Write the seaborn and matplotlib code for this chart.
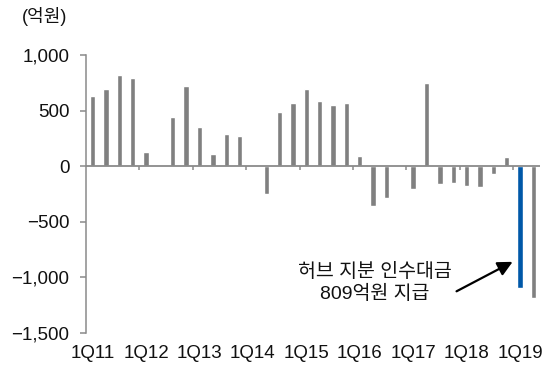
import matplotlib
matplotlib.use("Agg")
import matplotlib.pyplot as plt
from matplotlib.ticker import FuncFormatter
import seaborn as sns
import pandas as pd

# Quarterly values (억원), 1Q11 through 2Q19
years = ["11", "12", "13", "14", "15", "16", "17", "18", "19"]
quarters = [f"{q}Q{y}" for y in years for q in range(1, 5)][:34]
values = [630, 695, 820, 790,
          129, 0, 444, 719,
          354, 108, 291, 276,
          0, -248, 489, 566,
          698, 588, 554, 566,
          93, -359, -290, 0,
          -207, 749, -164, -149,
          -180, -185, -66, 87,
          -1093, -1183]
highlight_quarter = "1Q19"
tick_labels = ["1Q11", "1Q12", "1Q13", "1Q14", "1Q15", "1Q16", "1Q17", "1Q18", "1Q19"]
note_text = "허브 지분 인수대금\n809억원 지급"
unit_text = "(억원)"

GRAY = "#808080"
BLUE = "#0058A8"
AXIS = "#8a8a8a"

df = pd.DataFrame({"quarter": quarters, "value": values})
df["kind"] = ["hub" if q == highlight_quarter else "base" for q in df["quarter"]]

sns.set_theme(style="white")
plt.rcParams["font.family"] = ["Liberation Sans", "Noto Sans CJK KR", "DejaVu Sans"]
plt.rcParams["axes.unicode_minus"] = True

fig = plt.figure(figsize=(5.47, 3.71), dpi=100)
ax = fig.add_axes([86 / 547, 38 / 371, 454 / 547, 278 / 371])

sns.barplot(data=df, x="quarter", y="value", hue="kind",
            palette={"base": GRAY, "hub": BLUE}, dodge=False, legend=False,
            width=0.4, saturation=1, ax=ax, zorder=2)

ax.set_xlim(-0.5, len(quarters) - 0.5)
ax.set_ylim(-1500, 1000)
ax.set_yticks([-1500, -1000, -500, 0, 500, 1000])
ax.yaxis.set_major_formatter(FuncFormatter(lambda v, p: f"{v:,.0f}".replace("-", "\u2212")))
ax.set_xlabel("")
ax.set_ylabel("")

# category labels along the bottom, one per year
ax.set_xticks([quarters.index(t) for t in tick_labels])
ax.set_xticklabels(tick_labels)
ax.tick_params(axis="x", length=0, pad=9, labelsize=13.5, colors="#111111")
ax.tick_params(axis="y", direction="out", length=4, width=1.1, color=AXIS,
               pad=8, labelsize=13.5, labelcolor="#111111", left=True)

for side in ["top", "right", "bottom"]:
    ax.spines[side].set_visible(False)
ax.spines["left"].set_color(AXIS)
ax.spines["left"].set_linewidth(1.1)

# zero line with short year-boundary ticks hanging below it
ax.axhline(0, color=AXIS, lw=1.3, zorder=3)
boundaries = [4 * k - 0.5 for k in range(1, 9)]
ax.vlines(boundaries, -38, 0, color=AXIS, lw=1.1, zorder=3)

# annotation for the hub stake payment
ax.text(21.1, -1050, note_text, ha="center", va="center", fontsize=14,
        linespacing=1.3, color="#111111")
ax.annotate("", xy=(31.45, -860), xytext=(27.25, -1125),
            arrowprops=dict(arrowstyle="-|>", color="black", lw=1.6,
                            mutation_scale=22, shrinkA=0, shrinkB=0))

fig.text(22 / 547, 1 - 17 / 371, unit_text, ha="left", va="center",
         fontsize=13, color="#111111")

fig.savefig("out.png", dpi=100)
